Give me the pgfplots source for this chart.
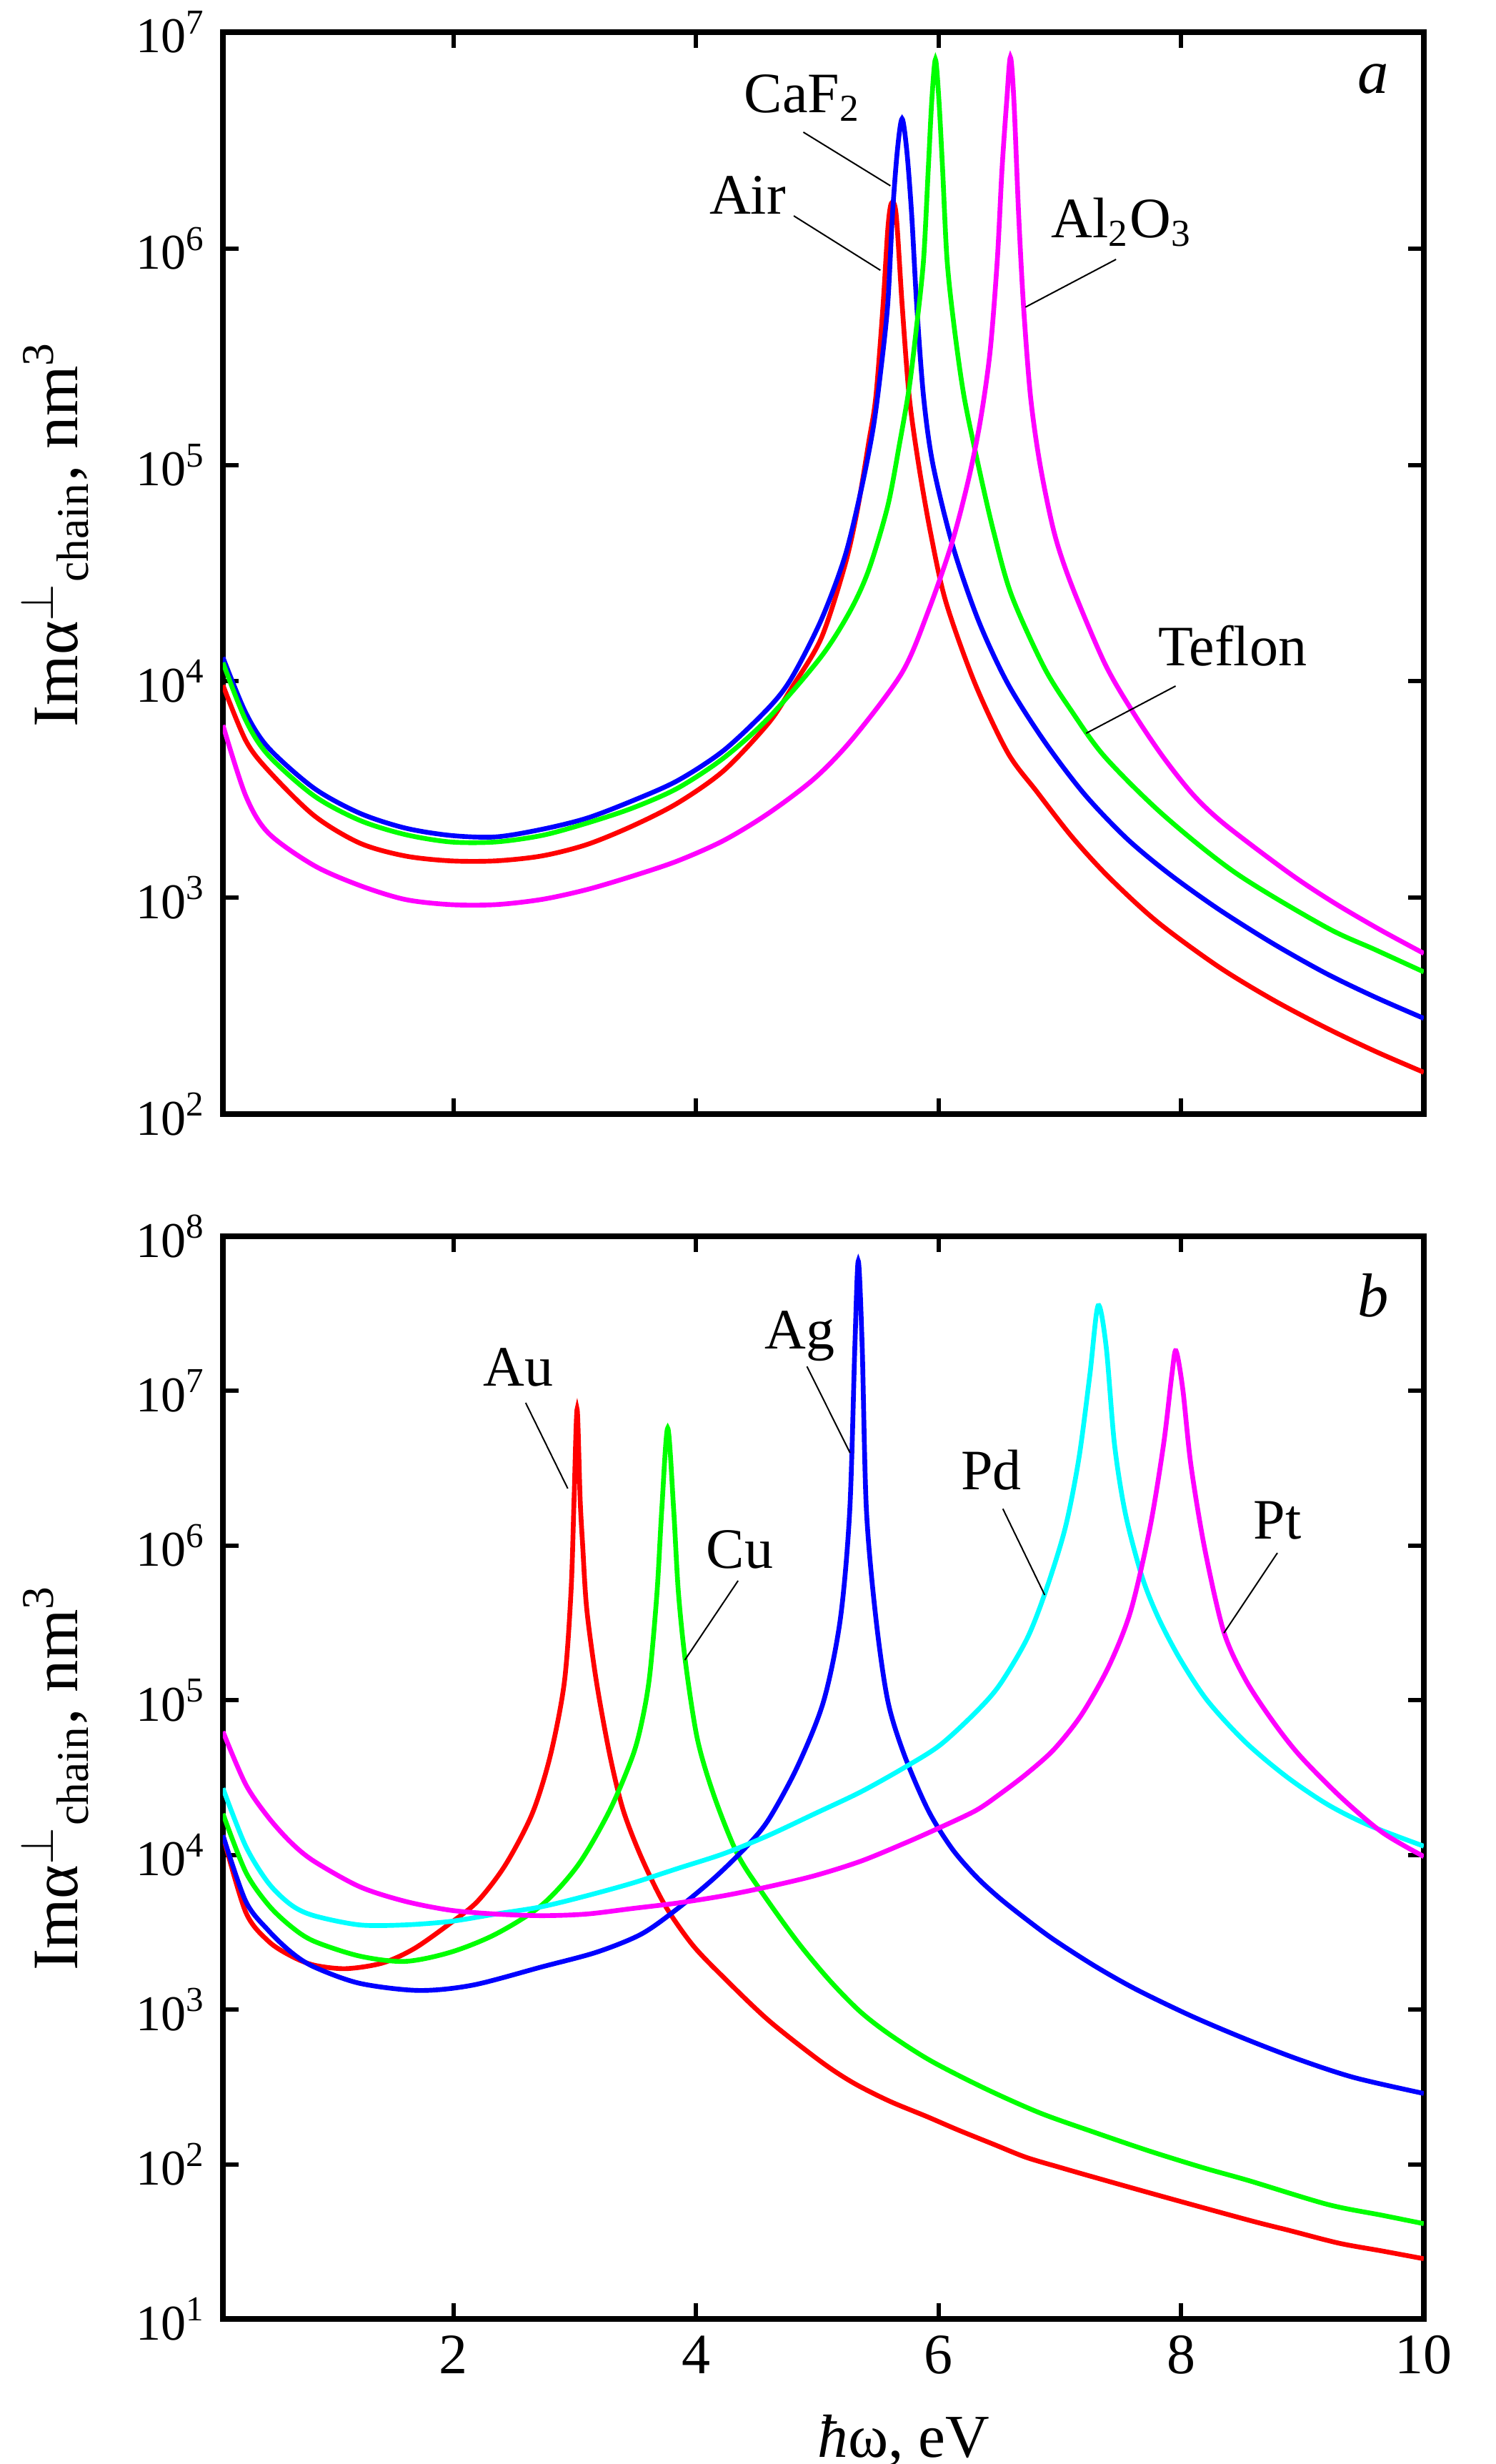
\documentclass[border=0pt]{standalone}
\usepackage{fontspec}
\setmainfont{Liberation Serif}
\usepackage{pgfplots}
\pgfplotsset{compat=1.18}

\definecolor{pRed}{RGB}{255,0,0}
\definecolor{pGreen}{RGB}{0,255,0}
\definecolor{pBlue}{RGB}{0,0,255}
\definecolor{pMag}{RGB}{255,0,255}
\definecolor{pCyan}{RGB}{0,255,255}

\tikzset{
  lead/.style={line width=0.3pt, black},
  lab/.style={font=\fontsize{12}{14}\selectfont, anchor=base, inner sep=0pt},
}

\begin{document}
\begin{tikzpicture}
\useasboundingbox (-46.8pt,-283.35pt) rectangle (267.15pt,233.85pt);

% ---- panel a ----
\begin{axis}[
  at={(0,0)}, anchor=south west,
  scale only axis, width=252.15pt, height=227.1pt,
  xmin=0.1, xmax=10, ymode=log, ymin=1e2, ymax=1e7,
  xtick={2,4,6,8,10}, xticklabels={},
  ytick={1e2,1e3,1e4,1e5,1e6,1e7},
  yticklabels={10\textsuperscript{2},10\textsuperscript{3},10\textsuperscript{4},10\textsuperscript{5},10\textsuperscript{6},10\textsuperscript{7}},
  tick align=inside, major tick length=3.3pt,
  major tick style={black, line width=0.9pt},
  axis line style={line width=1.1pt},
  yminorticks=false, xminorticks=false,
  xtick pos=both, ytick pos=both, yticklabel pos=left, xticklabel pos=lower,
  yticklabel style={font=\fontsize{10.5}{12}\selectfont},
  ylabel={Imα\textsuperscript{$\perp$}\textsubscript{chain}, nm\textsuperscript{3}},
  ylabel style={font=\fontsize{13.6}{15}\selectfont, at={(axis description cs:-0.1208,0.536)}, anchor=base},
  every axis plot/.append style={line width=1pt, smooth, tension=0.5, mark=none},
]
% Air
\addplot[pRed] coordinates {
(0.1,9600) (0.288,5330) (0.475,3870) (0.85,2400) (1.226,1790) (1.6,1560)
(1.977,1480) (2.35,1480) (2.73,1560) (3.1,1760) (3.48,2150) (3.85,2740)
(4.23,3870) (4.6,6430) (4.79,9350) (5.032,1.58e4) (5.228,3.44e4) (5.33,6.17e4)
(5.424,1.27e5) (5.483,2.07e5) (5.542,5.45e5) (5.582,1.24e6) (5.611,1.62e6)
(5.65,1.44e6) (5.70,5.45e5) (5.758,2.07e5) (5.836,1.0e5) (5.935,4.82e4)
(6.06,2.33e4) (6.3,9770) (6.57,4680) (6.81,3090) (7.1,1910) (7.4,1250)
(7.8,776) (8.3,483) (8.75,339) (9.19,251) (9.6,195) (10,156)
};
% CaF2
\addplot[pBlue] coordinates {
(0.1,1.29e4) (0.288,7160) (0.475,4930) (0.85,3210) (1.226,2460) (1.6,2100)
(1.977,1940) (2.35,1910) (2.73,2070) (3.1,2330) (3.48,2810) (3.85,3480)
(4.23,4800) (4.6,7550) (4.79,1.04e4) (5.032,1.92e4) (5.228,3.78e4) (5.365,7.83e4)
(5.46,1.47e5) (5.52,2.63e5) (5.58,5.45e5) (5.62,1.44e6) (5.66,2.83e6)
(5.699,3.98e6) (5.738,2.83e6) (5.778,1.44e6) (5.82,5.45e5) (5.876,2.07e5)
(5.954,1.0e5) (6.12,4.17e4) (6.33,1.90e4) (6.57,9770) (6.87,5300)
(7.2,3020) (7.55,1880) (7.9,1290) (8.3,891) (8.75,617) (9.19,448)
(9.6,347) (10,277)
};
% Teflon
\addplot[pGreen] coordinates {
(0.1,1.22e4) (0.288,6610) (0.475,4550) (0.85,2960) (1.226,2280) (1.6,1960)
(1.977,1810) (2.35,1810) (2.73,1940) (3.1,2210) (3.48,2600) (3.85,3210)
(4.23,4430) (4.6,6790) (5.032,1.30e4) (5.27,2.11e4) (5.424,3.27e4)
(5.581,6.46e4) (5.68,1.27e5) (5.758,2.28e5) (5.817,4.28e5) (5.876,8.85e5)
(5.915,2.33e6) (5.944,4.83e6) (5.974,7.48e6) (6.003,4.83e6) (6.033,2.33e6)
(6.07,8.85e5) (6.13,4.28e5) (6.21,2.07e5) (6.327,1.0e5) (6.45,5.01e4)
(6.6,2.51e4) (6.87,1.16e4) (7.1,7240) (7.37,4480) (7.85,2420) (8.45,1300)
(9.19,733) (9.6,575) (10,454)
};
% Al2O3
\addplot[pMag] coordinates {
(0.1,6270) (0.288,2960) (0.475,1990) (0.85,1410) (1.226,1140) (1.6,982)
(1.977,929) (2.35,929) (2.73,982) (3.1,1090) (3.48,1260) (3.85,1480)
(4.23,1840) (4.6,2460) (4.98,3570) (5.3,5500) (5.7,1.10e4) (5.915,2.11e4)
(6.111,4.38e4) (6.248,8.63e4) (6.346,1.62e5) (6.425,3.36e5) (6.484,8.85e5)
(6.523,2.33e6) (6.562,4.83e6) (6.592,7.66e6) (6.621,4.83e6) (6.66,1.44e6)
(6.7,5.45e5) (6.758,2.07e5) (6.837,1.0e5) (6.955,4.82e4) (7.1,2.75e4)
(7.37,1.21e4) (7.6,7240) (7.85,4480) (8.1,2985) (8.36,2180) (8.89,1300)
(9.25,955) (9.63,716) (10,553)
};
\draw[lead] (axis cs:4.885,3.45e6) -- (axis cs:5.603,1.95e6);
\node[lab] at (axis cs:4.879,4.24e6) {CaF\textsubscript{2}};
\draw[lead] (axis cs:4.806,1.416e6) -- (axis cs:5.52,7.94e5);
\node[lab] at (axis cs:4.426,1.44e6) {Air};
\draw[lead] (axis cs:7.463,8.91e5) -- (axis cs:6.716,5.36e5);
\node[lab] at (axis cs:7.51,1.12e6) {Al\textsubscript{2}O\textsubscript{3}};
\draw[lead] (axis cs:7.954,9.51e3) -- (axis cs:7.216,5.75e3);
\node[lab] at (axis cs:8.423,1.18e4) {Teflon};
\node[font=\itshape\fontsize{13}{15}\selectfont] at (rel axis cs:0.958,0.957) {a};
\end{axis}

% ---- panel b ----
\begin{axis}[
  at={(0,-25.65pt)}, anchor=north west,
  scale only axis, width=252.15pt, height=227.25pt,
  xmin=0.1, xmax=10, ymode=log, ymin=10, ymax=1e8,
  xtick={2,4,6,8,10}, xticklabels={2,4,6,8,10},
  ytick={1e1,1e2,1e3,1e4,1e5,1e6,1e7,1e8},
  yticklabels={10\textsuperscript{1},10\textsuperscript{2},10\textsuperscript{3},10\textsuperscript{4},10\textsuperscript{5},10\textsuperscript{6},10\textsuperscript{7},10\textsuperscript{8}},
  tick align=inside, major tick length=3.3pt,
  major tick style={black, line width=0.9pt},
  axis line style={line width=1.1pt},
  yminorticks=false, xminorticks=false,
  xtick pos=both, ytick pos=both, yticklabel pos=left, xticklabel pos=lower,
  yticklabel style={font=\fontsize{10.5}{12}\selectfont},
  xticklabel style={font=\fontsize{12}{14}\selectfont},
  xlabel={\textit{ħ}ω, eV},
  xlabel style={font=\fontsize{12.8}{15}\selectfont, at={(axis description cs:0.567,-0.1274)}, anchor=base},
  ylabel={Imα\textsuperscript{$\perp$}\textsubscript{chain}, nm\textsuperscript{3}},
  ylabel style={font=\fontsize{13.6}{15}\selectfont, at={(axis description cs:-0.1208,0.5)}, anchor=base},
  every axis plot/.append style={line width=1pt, smooth, tension=0.5, mark=none},
]
% Au
\addplot[pRed] coordinates {
(0.1,1.34e4) (0.288,4270) (0.475,2770) (0.663,2220) (0.85,1940) (1.113,1840)
(1.414,2000) (1.677,2480) (1.977,3630) (2.2,5020) (2.43,8650) (2.65,1.85e4)
(2.8,4.41e4) (2.915,1.31e5) (2.97,5.07e5) (2.995,2.0e6) (3.02,7.62e6)
(3.045,2.0e6) (3.066,1.0e6) (3.1,3.86e5) (3.18,1.31e5) (3.29,4.41e4)
(3.4,1.95e4) (3.55,9640) (3.74,4790) (3.97,2630) (4.23,1610) (4.6,850)
(5.032,460) (5.3,335) (5.595,256) (5.9,204) (6.158,167) (6.45,135)
(6.72,111) (7.0,95.5) (7.284,82.4) (7.847,61.9) (8.563,43.4) (8.9,37.2)
(9.3,30.9) (9.657,27.5) (10,24.5)
};
% Cu
\addplot[pGreen] coordinates {
(0.1,1.85e4) (0.288,7760) (0.475,4750) (0.663,3440) (0.85,2770) (1.226,2220)
(1.6,2050) (1.977,2350) (2.35,3080) (2.73,4750) (3.03,8650) (3.29,1.95e4)
(3.48,4.41e4) (3.561,7.73e4) (3.62,1.48e5) (3.679,5.01e5) (3.718,1.71e6)
(3.767,5.75e6) (3.816,1.71e6) (3.855,5.01e5) (3.914,1.75e5) (4.012,5.6e4)
(4.15,2.4e4) (4.34,1.02e4) (4.542,5750) (4.836,2750) (5.1,1550) (5.35,977)
(5.595,692) (5.933,468) (6.383,309) (6.834,215) (7.284,161) (7.735,122)
(8.185,94.8) (8.563,78.2) (9.207,55.0) (9.657,46.8) (10,41.3)
};
% Ag
\addplot[pBlue] coordinates {
(0.1,1.34e4) (0.288,5020) (0.475,3250) (0.663,2350) (0.85,1890) (1.226,1480)
(1.714,1330) (2.16,1440) (2.73,1890) (3.18,2350) (3.55,3080) (3.85,4510)
(4.15,7080) (4.42,1.14e4) (4.6,1.70e4) (4.836,3.72e4) (5.052,9.86e4)
(5.19,3.35e5) (5.268,1.71e6) (5.31,1.96e7) (5.338,6.92e7) (5.37,1.96e7)
(5.405,1.71e6) (5.484,3.35e5) (5.582,9.86e4) (5.72,4.38e4) (5.915,1.94e4)
(6.11,1.10e4) (6.31,7240) (6.504,5250) (6.73,3800) (6.954,2820) (7.292,1905)
(7.63,1350) (8.08,912) (8.53,646) (8.98,473) (9.43,363) (10,287)
};
% Pd
\addplot[pCyan] coordinates {
(0.1,2.70e4) (0.288,1.14e4) (0.475,6590) (0.663,4750) (0.85,4050) (1.226,3530)
(1.6,3530) (1.977,3720) (2.35,4150) (2.73,4630) (3.1,5450) (3.48,6590)
(3.85,8180) (4.23,1.02e4) (4.6,1.34e4) (4.98,1.85e4) (5.36,2.56e4)
(5.73,3.72e4) (6.013,5.14e4) (6.308,8.39e4) (6.504,1.26e5) (6.73,2.51e5)
(6.887,5.19e5) (7.045,1.31e6) (7.157,3.68e6) (7.247,1.27e7) (7.315,3.56e7)
(7.382,1.92e7) (7.45,4.53e6) (7.54,1.61e6) (7.675,6.38e5) (7.81,3.44e5)
(7.99,1.85e5) (8.216,9.95e4) (8.53,5.36e4) (8.87,3.20e4) (9.207,2.12e4)
(9.544,1.56e4) (10,1.14e4)
};
% Pt
\addplot[pMag] coordinates {
(0.1,6.28e4) (0.288,2.86e4) (0.475,1.75e4) (0.663,1.20e4) (0.85,9120)
(1.226,6240) (1.6,5020) (1.977,4390) (2.35,4150) (2.73,4050) (3.1,4150)
(3.48,4510) (3.85,4890) (4.23,5450) (4.6,6240) (4.98,7350) (5.36,9120)
(5.73,1.20e4) (6.0,1.49e4) (6.308,1.94e4) (6.504,2.47e4) (6.73,3.37e4)
(6.954,4.84e4) (7.18,8.11e4) (7.405,1.67e5) (7.585,3.81e5) (7.743,1.31e6)
(7.855,4.53e6) (7.923,1.27e7) (7.957,1.82e7) (8.013,1.03e7) (8.08,3.33e6)
(8.193,9.64e5) (8.35,2.79e5) (8.53,1.36e5) (8.756,7.31e4) (8.98,4.37e4)
(9.32,2.35e4) (9.657,1.40e4) (10,9770)
};
\draw[lead] (axis cs:2.596,8.38e6) -- (axis cs:2.943,2.34e6);
\node[lab] at (axis cs:2.537,1.08e7) {Au};
\draw[lead] (axis cs:4.347,5.93e5) -- (axis cs:3.908,1.82e5);
\node[lab] at (axis cs:4.361,7.18e5) {Cu};
\draw[lead] (axis cs:4.915,1.44e7) -- (axis cs:5.27,3.98e6);
\node[lab] at (axis cs:4.856,1.87e7) {Ag};
\draw[lead] (axis cs:6.53,1.73e6) -- (axis cs:6.875,4.79e5);
\node[lab] at (axis cs:6.433,2.30e6) {Pd};
\draw[lead] (axis cs:8.793,8.97e5) -- (axis cs:8.352,2.72e5);
\node[lab] at (axis cs:8.793,1.10e6) {Pt};
\node[font=\itshape\fontsize{13}{15}\selectfont] at (rel axis cs:0.958,0.945) {b};
\end{axis}
\end{tikzpicture}
\end{document}
